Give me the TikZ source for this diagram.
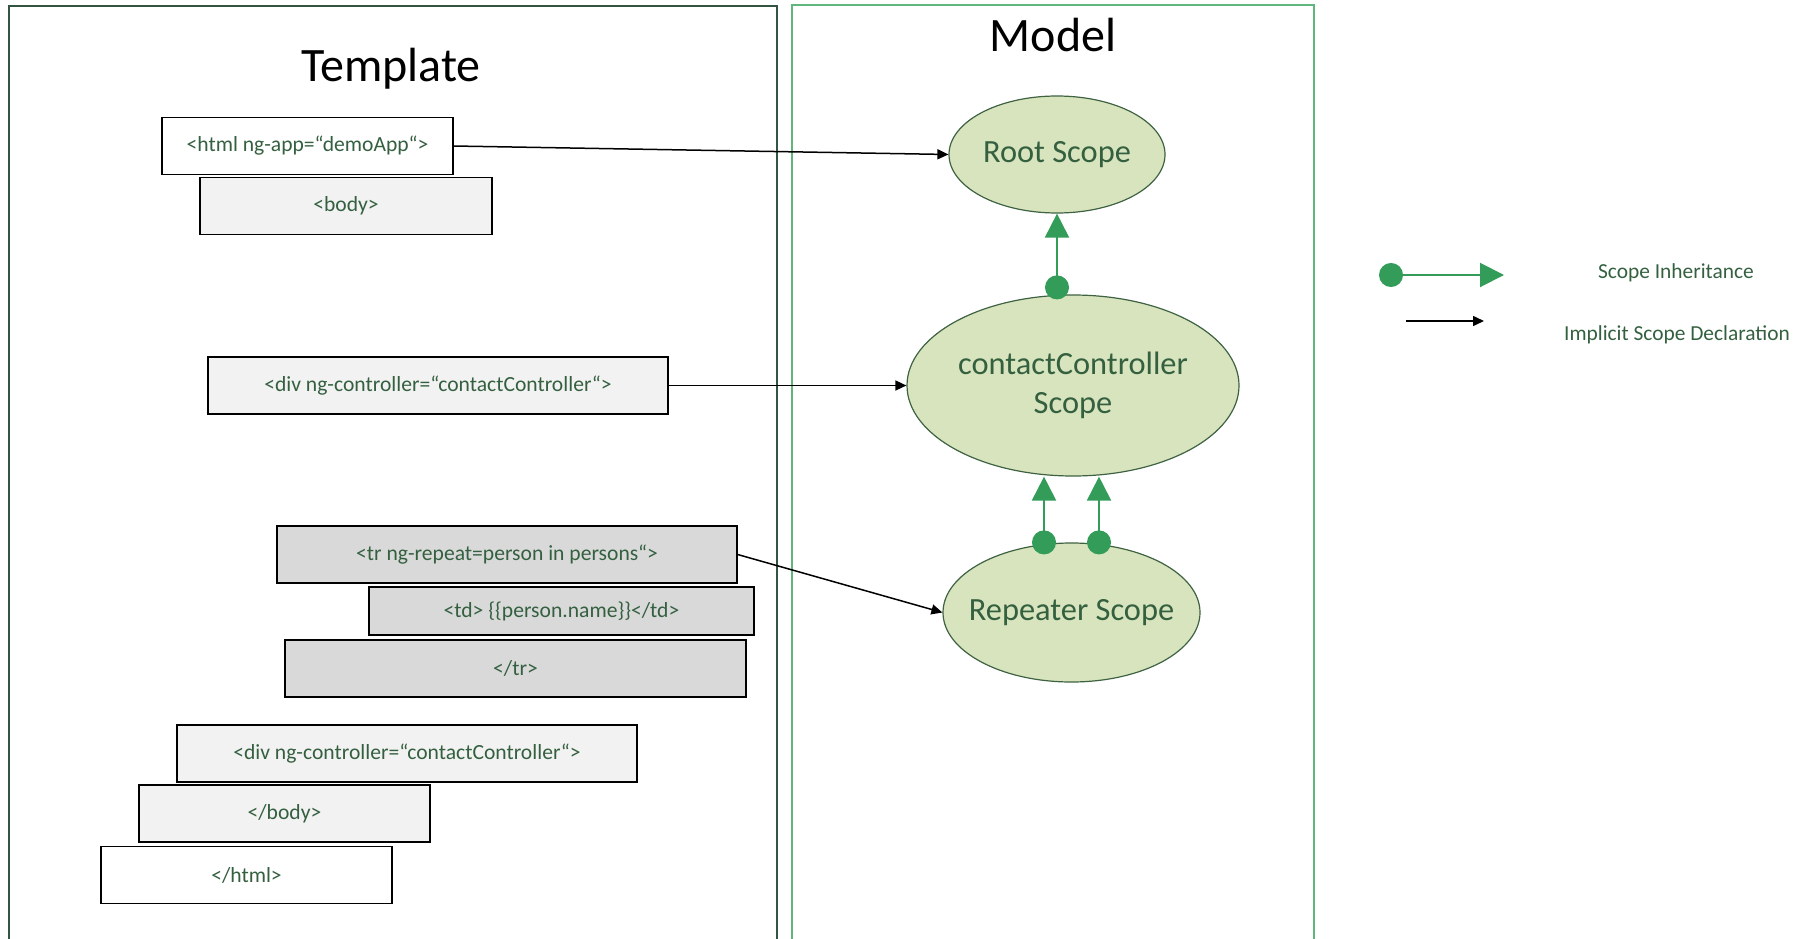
\documentclass[tikz,border=0pt]{standalone}
\usepackage{fontspec}
\setmainfont{Carlito}
\usepackage{tikz}
\usetikzlibrary{shapes, arrows.meta, positioning, calc}
\definecolor{tagtext}{RGB}{52,96,64}
\definecolor{tagpale}{RGB}{242,242,242}
\definecolor{tagdark}{RGB}{217,217,217}
\definecolor{scopefill}{RGB}{215,228,189}
\definecolor{scopeline}{RGB}{62,98,66}
\definecolor{inheritgreen}{RGB}{50,156,88}
\definecolor{tplframe}{RGB}{52,84,66}
\definecolor{mdlframe}{RGB}{96,182,124}
\tikzstyle{tag} = [rectangle, minimum width=291pt, minimum height=57pt, inner sep=0pt, text centered, draw=black, line width=1.3pt, fill=white, text=tagtext, font=\fontsize{21.6}{26}\selectfont]
\tikzstyle{widetag} = [tag, minimum width=460pt]
\tikzstyle{scope} = [ellipse, inner sep=0pt, align=center, draw=scopeline, line width=1.2pt, fill=scopefill, text=tagtext, font=\fontsize{32.4}{39}\selectfont]
\tikzstyle{title} = [font=\fontsize{48}{56}\selectfont]
\tikzstyle{legend} = [text=tagtext, font=\fontsize{21.4}{26}\selectfont]
\tikzstyle{arrow} = [line width=1.5pt, -{Triangle[length=11pt,width=10pt]}]
\tikzstyle{inherit} = [draw=inheritgreen, line width=2pt, {Circle[length=24pt,fill=inheritgreen]}-{Triangle[length=24pt,width=24pt,fill=inheritgreen]}]

\begin{document}
\begin{tikzpicture}[x=1pt, y=1pt, node distance=60pt]
				\useasboundingbox (0,0) rectangle (1804,-939);
				\draw [tplframe, line width=1.5pt] (9,-945) |- (777,-6) -- (777,-945);
				\draw [mdlframe, line width=1.5pt] (792,-945) |- (1314,-5) -- (1314,-945);
				\node (tpltitle) [title] at (391,-69) {Template};
				\node (mdltitle) [title] at (1053,-35) {Model};

				\node (html) [tag] at (307.5,-146) {<html ng-app=“demoApp“>};
				\node (body) [tag, fill=tagpale, minimum width=292pt, below of=html, xshift=38.5pt] {<body>};
				\node (div) [widetag, fill=tagpale] at (438,-385.5) {<div ng-controller=“contactController“>};
				\node (tr) [widetag, fill=tagdark] at (507,-554.5) {<tr ng-repeat=person in persons“>};
				\node (td) [tag, fill=tagdark, minimum width=385pt, minimum height=48pt, below of=tr, xshift=54.5pt, yshift=3.5pt] {<td> \{\{person.name\}\}</td>};
				\node (endtr) [widetag, fill=tagdark, minimum width=461pt, below of=td, xshift=-46pt, yshift=2.5pt] {</tr>};
				\node (div2) [widetag, fill=tagpale] at (407,-753.5) {<div ng-controller=“contactController“>};
				\node (endbody) [tag, fill=tagpale, below of=div2, xshift=-122.5pt] {</body>};
				\node (endhtml) [tag, below of=endbody, xshift=-38pt, yshift=-1.5pt] {</html>};

				\node (root) [scope, minimum width=216pt, minimum height=117pt] at (1057,-154.5) {Root Scope};
				\node (cc) [scope, minimum width=332pt, minimum height=181pt] at (1073,-385.5) {contactController\\Scope};
				\node (rep) [scope, inner xsep=-13pt, minimum width=257pt, minimum height=139pt] at (1071.5,-612.5) {Repeater Scope};
				\coordinate (repL) at ($(rep.north)+(-27.5,-12)$);
				\coordinate (repR) at ($(rep.north)+(27.5,-12)$);

				% legend
				\coordinate (lgA) at (1379,-275);
				\coordinate (lgB) at (1504,-275);
				\coordinate (lgC) at (1406,-321);
				\coordinate (lgD) at (1484,-321);
				\node (lginherit) [legend] at (1676,-273) {Scope Inheritance};
				\node (lgdeclare) [legend] at (1677,-335) {Implicit Scope Declaration};

				% connectors
				\draw [arrow] (html.east) -- (root.west);
				\draw [arrow] (div.east) -- (cc.west);
				\draw [arrow] (tr.east) -- (rep.west);
				\draw [inherit] ($(root.south |- cc.north)+(0,-5)$) -- (root.south);
				\draw [inherit] (repL) -- (repL |- cc.south);
				\draw [inherit] (repR) -- (repR |- cc.south);
				\draw [inherit] (lgA) -- (lgB);
				\draw [arrow] (lgC) -- (lgD);

			\end{tikzpicture}
\end{document}
